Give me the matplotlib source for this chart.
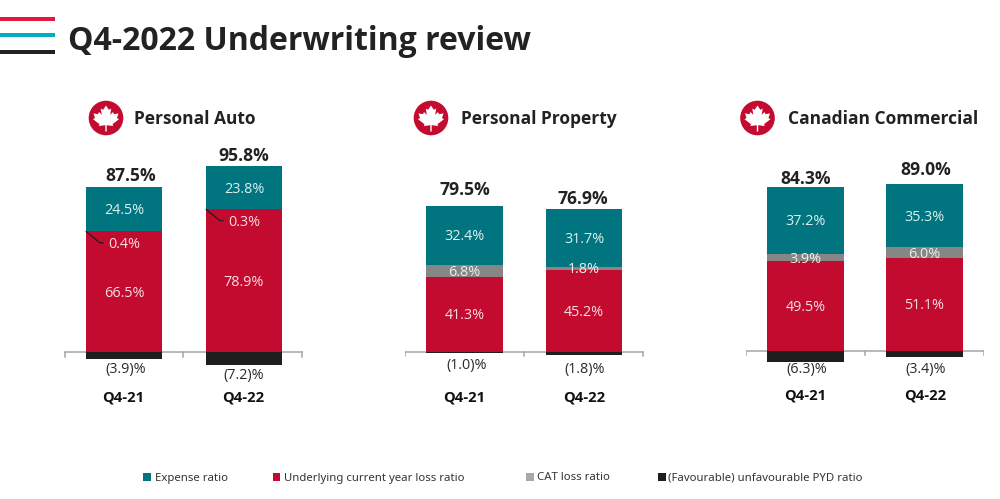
import matplotlib
matplotlib.use("Agg")
import matplotlib.pyplot as plt
from matplotlib.patches import Circle, Polygon, Rectangle

W, H = 1000, 499

# Ratios per segment, in stacking order from the baseline upward
periods = ["Q4-21", "Q4-22"]
segments = ["Personal Auto", "Personal Property", "Canadian Commercial"]
combined = [[87.5, 95.8], [79.5, 76.9], [84.3, 89.0]]
underlying = [[66.5, 78.9], [41.3, 45.2], [49.5, 51.1]]
cat_loss = [[0.4, 0.3], [6.8, 1.8], [3.9, 6.0]]
expense = [[24.5, 23.8], [32.4, 31.7], [37.2, 35.3]]
pyd = [[-3.9, -7.2], [-1.0, -1.8], [-6.3, -3.4]]
legend_labels = ["Expense ratio", "Underlying current year loss ratio",
                 "CAT loss ratio", "(Favourable) unfavourable PYD ratio"]

TEAL = "#00757F"
RED = "#C30B30"
GREY = "#868686"
BLACK = "#1E1E1E"
INK = "#222222"
SCALE = 1.805  # pixels per ratio point

plt.rcParams["font.family"] = ["Open Sans", "DejaVu Sans"]
fig = plt.figure(figsize=(W / 100, H / 100), dpi=100, facecolor="white")

# Full-figure layer in pixel units for header, icons and legend
bg = fig.add_axes([0, 0, 1, 1])
bg.set_xlim(0, W)
bg.set_ylim(H, 0)
bg.axis("off")

for y, c in zip([19, 35, 52], ["#E4173F", "#00AEBF", "#222222"]):
    bg.add_patch(Rectangle((0, y - 1.8), 55, 3.6, color=c, lw=0))
bg.text(68, 41, "Q4-2022 Underwriting review", fontsize=23, fontweight="bold",
        color=INK, va="center", ha="left")

LEAF = [(0, -12.5), (2.8, -8.2), (5.2, -9.4), (4.2, -3.2), (7, -6), (8, -3.8),
        (12.5, -4.6), (11, 0), (13, 1.2), (6.5, 6.2), (7.2, 8), (0.7, 7.2),
        (0.7, 13.5), (-0.7, 13.5), (-0.7, 7.2), (-7.2, 8), (-6.5, 6.2), (-13, 1.2),
        (-11, 0), (-12.5, -4.6), (-8, -3.8), (-7, -6), (-4.2, -3.2), (-5.2, -9.4),
        (-2.8, -8.2)]


def draw_icon(cx, cy):
    bg.add_patch(Circle((cx, cy), 17.3, color=RED, lw=0))
    bg.add_patch(Polygon([(cx + x, cy + y) for x, y in LEAF], closed=True,
                         color="white", lw=0))


# Pixel layout of the three panels: axis span, bar centres, baseline, header
axis_spans = [(64, 303), (405, 644), (745.5, 984)]
bar_centres = [(124, 244), (464.5, 584), (805.5, 924.5)]
baselines = [352, 351.5, 350.5]
icon_centres = [(106, 118), (431, 118), (757.5, 118)]
title_x = [134, 461, 788.5]
BAR_W = 76.5
neg_label_x = [[126, 244], [467, 585], [807, 926]]
neg_label_y = [[369, 375], [365, 369], [369, 369]]
period_x = [[123, 243], [464, 584], [805, 925]]
period_y = [398, 397, 396]
total_y = [[176, 156], [190, 199], [179, 170]]
total_x = [[130.7, 244], [464.7, 583], [805.7, 925.5]]
LABEL_SHIFT = 0.8  # nudges in-bar labels to sit optically centred

for i, seg in enumerate(segments):
    x0, x1 = axis_spans[i]
    base = baselines[i]
    ax = fig.add_axes([x0 / W, (H - (base + 40)) / H, (x1 - x0) / W, 240 / H])
    ax.set_xlim(x0, x1)
    ax.set_ylim(-40 / SCALE, 200 / SCALE)
    ax.axis("off")
    ax.patch.set_alpha(0)

    for j in range(2):
        xc = bar_centres[i][j]
        u, c, e, p = underlying[i][j], cat_loss[i][j], expense[i][j], pyd[i][j]
        ax.bar(xc, u, BAR_W, color=RED, lw=0, zorder=2)
        ax.bar(xc, c, BAR_W, bottom=u, color=GREY if c > 1 else RED, lw=0, zorder=2)
        ax.bar(xc, e, BAR_W, bottom=u + c, color=TEAL, lw=0, zorder=2)
        ax.bar(xc, p, BAR_W, color=BLACK, lw=0, zorder=2)

        ax.text(xc, u / 2 - LABEL_SHIFT, f"{u:.1f}%", color="#F6DDE2", fontsize=10.4,
                ha="center", va="center", zorder=3)
        ax.text(xc, u + c + e / 2 - LABEL_SHIFT, f"{e:.1f}%", color="#DDF0F0",
                fontsize=10.4, ha="center", va="center", zorder=3)
        if c > 1:
            ax.text(xc, u + c / 2 - LABEL_SHIFT, f"{c:.1f}%", color="#EEEEEE",
                    fontsize=10.4, ha="center", va="center", zorder=3)
        else:
            # Thin CAT slices get a leader line and a label inside the red bar
            top = u + c
            lx = xc - BAR_W / 2
            ax.plot([lx, lx + 14, lx + 18], [top, top - 6.4, top - 6.4],
                    color="#1E1E1E", lw=0.9, solid_capstyle="butt", zorder=3)
            ax.text(xc, top - 7.3, f"{c:.1f}%", color="#F6DDE2", fontsize=10.4,
                    ha="center", va="center", zorder=3)

        bg.text(total_x[i][j], total_y[i][j], f"{combined[i][j]:.1f}%", color=INK,
                fontsize=12.6, fontweight="bold", ha="center", va="center")
        bg.text(neg_label_x[i][j], neg_label_y[i][j], f"({abs(p):.1f})%", color="#2A2A2A",
                fontsize=10.4, ha="center", va="center")
        bg.text(period_x[i][j], period_y[i], periods[j], color="#111111", fontsize=10.6,
                fontweight="bold", ha="center", va="center")

    # Baseline with end and middle ticks, pointing down
    mid = (x0 + x1) / 2
    ax.plot([x0 + 0.5, x1 - 0.5], [0, 0], color="#A6A6A6", lw=1.1, zorder=1)
    for xt in (x0 + 0.5, mid, x1 - 0.5):
        ax.plot([xt, xt], [0, -4.5 / SCALE], color="#A6A6A6", lw=1.1, zorder=1)

    draw_icon(*icon_centres[i])
    bg.text(title_x[i], 119, seg, fontsize=12.5, fontweight="bold", color=INK,
            ha="left", va="center")

# Legend
legend_x = [143, 272.5, 526, 658]
legend_text_x = [155, 284, 537, 668]
for x, tx, lab, c in zip(legend_x, legend_text_x, legend_labels, [TEAL, RED, "#A9A9A9", BLACK]):
    bg.add_patch(Rectangle((x, 473), 7.5, 7.5, color=c, lw=0))
    bg.text(tx, 478, lab, fontsize=8.2, color="#333333", ha="left", va="center",
            family="Noto Sans")

fig.savefig("out.png", dpi=100)
